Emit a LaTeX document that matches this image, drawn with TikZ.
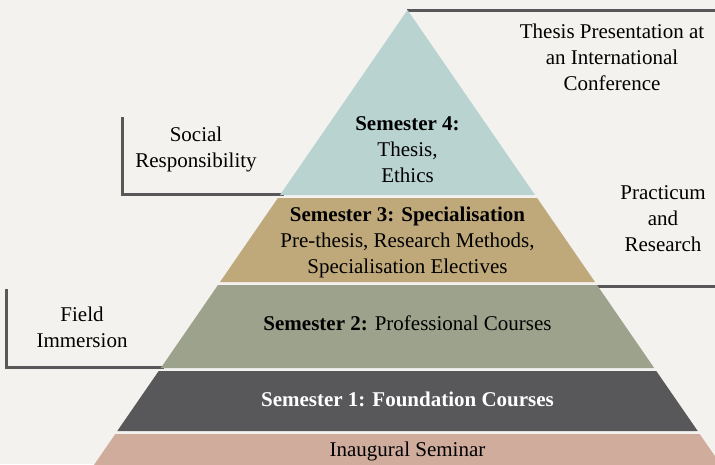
\documentclass[tikz,border=0pt]{standalone}
\usepackage{fontspec}
\setmainfont{Liberation Serif}
\definecolor{bg}{HTML}{F3F2EE}
\definecolor{lgray}{HTML}{58585A}
\definecolor{tierA}{HTML}{B8D3D0}
\definecolor{tierB}{HTML}{BFA97A}
\definecolor{tierC}{HTML}{9DA28C}
\definecolor{tierD}{HTML}{58585A}
\definecolor{tierE}{HTML}{CFAC9C}
\begin{document}
\begin{tikzpicture}[x=1pt,y=-1pt,
  txt/.style={font=\fontsize{21}{25.7}\selectfont, align=center, inner sep=0pt, anchor=base},
  bracket/.style={draw=lgray, line width=3pt}]
\fill[bg] (0,0) rectangle (715,464);
\useasboundingbox (0,0) rectangle (715,464);
% brackets (behind pyramid)
\draw[bracket] (407,10) -- (716,10);
\draw[bracket] (122,117) -- (122,194) -- (284,194);
\draw[bracket] (6,289) -- (6,367) -- (164,367);
\draw[bracket] (560,286) -- (716,286);
% tiers
\fill[tierA] (407.5,10) -- (535,195) -- (280,195) -- cycle;
\fill[tierB] (277.9,198) -- (537.1,198) -- (595,282) -- (220,282) -- cycle;
\fill[tierC] (218,285) -- (597,285) -- (654.2,368) -- (160.8,368) -- cycle;
\fill[tierD] (158.7,371) -- (656.3,371) -- (697.7,431) -- (117.3,431) -- cycle;
\fill[tierE] (115.3,434) -- (699.7,434) -- (724.5,470) -- (90.5,470) -- cycle;
% texts (base anchor = baseline of last line)
\node[txt] (s4) at (407.5,182) {\textbf{Semester 4:}\\Thesis,\\Ethics};
\node[txt] (s3) at (407.5,273) {\textbf{Semester 3: Specialisation}\\Pre-thesis, Research Methods,\\Specialisation Electives};
\node[txt] (s2) at (407.5,330) {\textbf{Semester 2:} Professional Courses};
\node[txt, text=white] (s1) at (407.5,406.5) {\textbf{Semester 1: Foundation Courses}};
\node[txt] (s0) at (407.5,456.5) {Inaugural Seminar};
\node[txt] (tp) at (612,90) {Thesis Presentation at\\an International\\Conference};
\node[txt] (sr) at (196,167) {Social\\Responsibility};
\node[txt] (pr) at (663,251) {Practicum\\and\\Research};
\node[txt] (fi) at (82,347) {Field\\Immersion};
\end{tikzpicture}
\end{document}
